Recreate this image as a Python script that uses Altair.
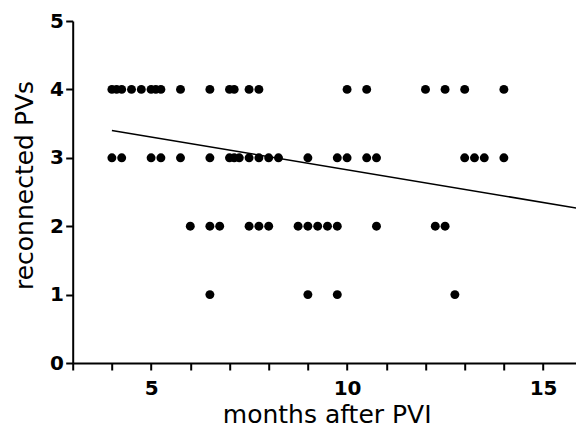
import altair as alt
import pandas as pd

# months after PVI, grouped by number of reconnected PVs
months_4 = [4.0, 4.12, 4.25, 4.5, 4.75, 5.0, 5.12, 5.25, 5.75, 6.5, 7.0, 7.12, 7.5, 7.75,
            10.0, 10.5, 12.0, 12.5, 13.0, 14.0]
months_3 = [4.0, 4.25, 5.0, 5.25, 5.75, 6.5, 7.0, 7.12, 7.25, 7.5, 7.75, 8.0, 8.25, 9.0,
            9.75, 10.0, 10.5, 10.75, 13.0, 13.25, 13.5, 14.0]
months_2 = [6.0, 6.5, 6.75, 7.5, 7.75, 8.0, 8.75, 9.0, 9.25, 9.5, 9.75, 10.75, 12.25, 12.5]
months_1 = [6.5, 9.0, 9.75, 12.75, 16.0]

# linear fit line endpoints
fit_months = [4.0, 16.0]
fit_pvs = [3.40, 2.25]

x_ticks = list(range(3, 17))
y_ticks = [0, 1, 2, 3, 4, 5]

months = months_4 + months_3 + months_2 + months_1
pvs = [4] * len(months_4) + [3] * len(months_3) + [2] * len(months_2) + [1] * len(months_1)
df = pd.DataFrame({"months": months, "pvs": pvs})
fit = pd.DataFrame({"months": fit_months, "pvs": fit_pvs})

xscale = alt.Scale(domain=[3, 15.84], nice=False, zero=False)
yscale = alt.Scale(domain=[0, 5], nice=False)

xaxis = alt.Axis(
    title="months after PVI",
    values=x_ticks,
    format="d",
    labelExpr="(datum.value == 5 || datum.value == 10 || datum.value == 15) ? datum.label : ''",
    labelOverlap=False,
    labelFlush=False,
    labelPadding=8,
    titleX=254,
    titleY=59,
    titleBaseline="alphabetic",
)
yaxis = alt.Axis(
    title="reconnected PVs",
    values=y_ticks,
    format="d",
    labelOverlap=False,
    labelPadding=2.4,
    titleX=-40,
    titleY=164,
    titleBaseline="alphabetic",
)

points = alt.Chart(df).mark_circle(size=80, color="black", opacity=1, clip=True).encode(
    x=alt.X("months:Q", scale=xscale, axis=xaxis),
    y=alt.Y("pvs:Q", scale=yscale, axis=yaxis),
)
line = alt.Chart(fit).mark_line(color="black", strokeWidth=1.6, clip=True).encode(
    x=alt.X("months:Q", scale=xscale, axis=xaxis),
    y=alt.Y("pvs:Q", scale=yscale, axis=yaxis),
)

chart = (
    alt.layer(points, line)
    .properties(
        width=503.3,
        height=342,
        autosize=alt.AutoSizeParams(type="none"),
        padding={"left": 64.7, "top": 13, "right": 0, "bottom": 65},
    )
    .configure_view(stroke=None)
    .configure_axis(
        grid=False,
        labelOverlap=False,
        domainColor="black",
        domainWidth=2,
        tickColor="black",
        tickWidth=2,
        tickSize=7,
        labelFont="DejaVu Sans",
        labelFontWeight="bold",
        labelFontSize=20,
        labelColor="black",
        titleFont="DejaVu Sans",
        titleFontWeight="normal",
        titleFontSize=25,
        titleColor="black",
    )
)

chart.save("out.html", embed_options={"renderer": "svg", "actions": False})
